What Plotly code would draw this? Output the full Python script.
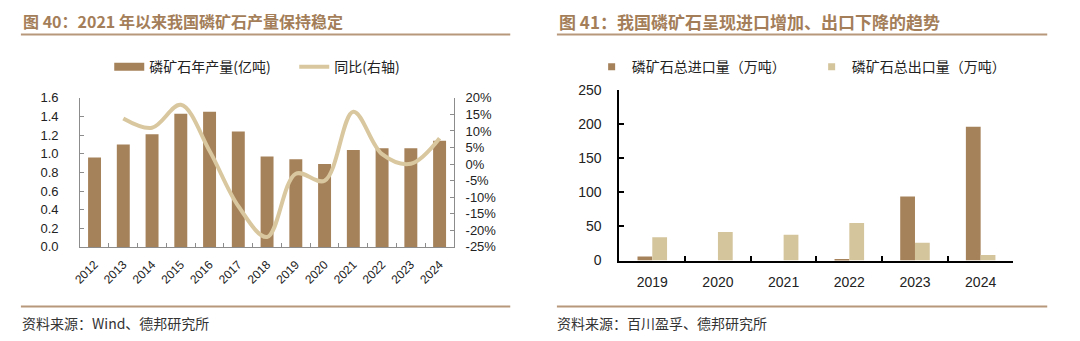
import plotly.graph_objects as go

# ---------------- data ----------------
years_left = ["2012", "2013", "2014", "2015", "2016", "2017", "2018",
              "2019", "2020", "2021", "2022", "2023", "2024"]
output_bn_t = [0.96, 1.10, 1.21, 1.43, 1.45, 1.24, 0.97, 0.94, 0.89, 1.04, 1.06, 1.06, 1.14]
yoy_pct = [None, 13.8, 11.0, 17.9, 4.0, -12.7, -22.0, -2.9, -5.0, 15.8, 3.0, 0.1, 7.8]

years_right = ["2019", "2020", "2021", "2022", "2023", "2024"]
imports_10k_t = [6, 0, 0, 2, 94, 196]
exports_10k_t = [34, 42, 38, 55, 26, 8]

left_y_ticks = [0.0, 0.2, 0.4, 0.6, 0.8, 1.0, 1.2, 1.4, 1.6]
right_pct_ticks = [-25, -20, -15, -10, -5, 0, 5, 10, 15, 20]
right_pct_labels = ["-25%", "-20%", "-15%", "-10%", "-5%", "0%", "5%", "10%", "15%", "20%"]
imp_ticks = [0, 50, 100, 150, 200, 250]

title_left = "图 40：2021 年以来我国磷矿石产量保持稳定"
title_right = "图 41：我国磷矿石呈现进口增加、出口下降的趋势"
source_left = "资料来源：Wind、德邦研究所"
source_right = "资料来源：百川盈孚、德邦研究所"
name_output = "磷矿石年产量(亿吨)"
name_yoy = "同比(右轴)"
name_imp = "磷矿石总进口量（万吨）"
name_exp = "磷矿石总出口量（万吨）"

# ---------------- style ----------------
W, H = 1080, 341
DARK = "#A6825A"
LIGHT = "#D5C59D"
LINEC = "#D9C89F"
TITLEC = "#A47E59"
RULEC = "#B8987A"
TXT = "#222222"
CJK = "Noto Sans CJK SC"
LAT = "Liberation Sans, Arial, sans-serif"


def px(x):
    return x / W


def py(y):
    return 1 - y / H


fig = go.Figure()

# left chart
fig.add_trace(go.Bar(x=years_left, y=output_bn_t, name=name_output,
                     marker=dict(color=DARK, line=dict(width=0)),
                     xaxis="x", yaxis="y", showlegend=False))
fig.add_trace(go.Scatter(x=[None], y=[None], name=name_output, mode="lines",
                         line=dict(color=DARK, width=8),
                         xaxis="x", yaxis="y", legend="legend"))
fig.add_trace(go.Scatter(x=years_left, y=yoy_pct, name=name_yoy, mode="lines",
                         line=dict(color=LINEC, width=4, shape="spline", smoothing=1.0),
                         xaxis="x", yaxis="y2", legend="legend"))

# right chart
fig.add_trace(go.Bar(x=years_right, y=imports_10k_t, name=name_imp,
                     marker=dict(color=DARK, line=dict(width=0)),
                     xaxis="x3", yaxis="y3", showlegend=False))
fig.add_trace(go.Bar(x=years_right, y=exports_10k_t, name=name_exp,
                     marker=dict(color=LIGHT, line=dict(width=0)),
                     xaxis="x3", yaxis="y3", showlegend=False))
for nm, col in [(name_imp, DARK), (name_exp, LIGHT)]:
    fig.add_trace(go.Scatter(x=[None], y=[None], name=nm, mode="markers",
                             marker=dict(symbol="square", size=7, color=col),
                             xaxis="x3", yaxis="y3", legend="legend2"))

GRAYAX = "#8c8c8c"

fig.update_layout(
    width=W, height=H,
    margin=dict(l=0, r=0, t=0, b=0),
    paper_bgcolor="white", plot_bgcolor="white",
    barmode="group",
    bargap=0.55,
    showlegend=True,
    xaxis=dict(domain=[px(72.7), px(449.3)], anchor="y", type="category",
               showline=True, linecolor=GRAYAX, linewidth=1,
               ticks="inside", ticklen=4, tickcolor=GRAYAX, tickson="boundaries",
               tickangle=-45, tickfont=dict(family=LAT, size=12, color=TXT),
               ticklabelstandoff=5,
               showgrid=False, zeroline=False),
    yaxis=dict(domain=[py(250.7), py(94.3)], anchor="x", range=[0, 1.6],
               tickvals=left_y_ticks, tickformat=".1f",
               showline=True, linecolor=GRAYAX, linewidth=1,
               ticks="inside", ticklen=4, tickcolor=GRAYAX,
               tickfont=dict(family=LAT, size=13, color=TXT), ticklabelstandoff=18,
               showgrid=False, zeroline=False),
    yaxis2=dict(overlaying="y", side="right", anchor="x", range=[-25, 20],
                tickvals=right_pct_ticks, ticktext=right_pct_labels,
                showline=True, linecolor=GRAYAX, linewidth=1,
                ticks="inside", ticklen=4, tickcolor=GRAYAX,
                tickfont=dict(family=LAT, size=13, color=TXT), ticklabelstandoff=8,
                showgrid=False, zeroline=False),
    xaxis3=dict(domain=[px(616), px(1013)], anchor="y3", type="category",
                showline=True, linecolor="#000000", linewidth=2,
                ticks="inside", ticklen=5, tickwidth=2, tickcolor="#000000",
                tickson="boundaries",
                tickfont=dict(family=LAT, size=14, color=TXT), ticklabelstandoff=8,
                showgrid=False, zeroline=False),
    yaxis3=dict(domain=[py(265), py(86)], anchor="x3", range=[0, 250],
                tickvals=imp_ticks,
                showline=True, linecolor="#000000", linewidth=2,
                ticks="inside", ticklen=5, tickwidth=2, tickcolor="#000000",
                tickfont=dict(family=LAT, size=14, color=TXT), ticklabelstandoff=13,
                showgrid=False, zeroline=False),
    legend=dict(orientation="h", x=px(102), y=py(62), xanchor="left", yanchor="middle",
                font=dict(family=CJK, size=14, color=TXT), bgcolor="rgba(0,0,0,0)",
                itemwidth=30, entrywidth=140, tracegroupgap=0),
    legend2=dict(orientation="h", x=px(588), y=py(62), xanchor="left", yanchor="middle",
                 font=dict(family=CJK, size=14, color=TXT), bgcolor="rgba(0,0,0,0)",
                 itemwidth=30, entrywidth=175, tracegroupgap=0),
)

# titles, rules, sources
annots = []
for x0, txt, fs in [(13, title_left, 16), (553, title_right, 17)]:
    annots.append(dict(x=px(x0), y=py(14), xref="paper", yref="paper", xanchor="left",
                       yanchor="middle", showarrow=False, text="<b>" + txt + "</b>",
                       font=dict(family=CJK, size=fs, color=TITLEC)))
for x0, txt in [(12, source_left), (551, source_right)]:
    annots.append(dict(x=px(x0), y=py(330), xref="paper", yref="paper", xanchor="left",
                       yanchor="middle", showarrow=False, text=txt,
                       font=dict(family=CJK, size=14, color="#333333")))
fig.update_layout(annotations=annots)

shapes = []
for (x0, x1) in [(13, 506), (553, 1047)]:
    for yv in (27.7, 313.3):
        shapes.append(dict(type="line", xref="paper", yref="paper",
                           x0=px(x0), x1=px(x1), y0=py(yv), y1=py(yv),
                           line=dict(color=RULEC, width=2)))
fig.update_layout(shapes=shapes)

fig.write_html("out.html")
